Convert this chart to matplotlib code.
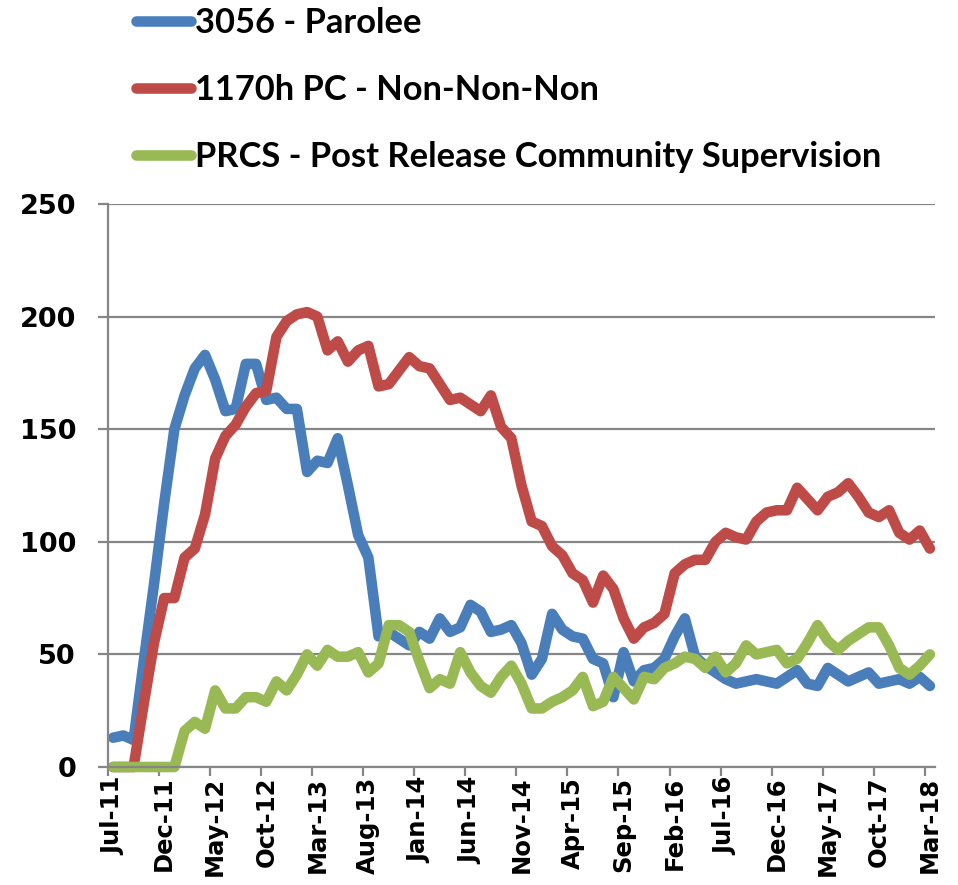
import numpy as np
import matplotlib
matplotlib.use("Agg")
import matplotlib.pyplot as plt
from matplotlib.font_manager import FontProperties

# monthly counts, Jul-11 .. Mar-18 (81 months)
parolee = [13, 14, 12, 47, 81, 117, 150, 165, 177, 183, 172, 158, 159, 179, 179,
           163, 164, 159, 159, 131, 136, 135, 146, 125, 103, 93, 58, 60, 57, 54,
           60, 57, 66, 60, 62, 72, 69, 60, 61, 63, 55, 41, 48, 68, 61, 58, 57, 48,
           46, 31, 51, 38, 43, 44, 48, 58, 66, 49, 45, 42, 39, 37, 38, 39, 38, 37,
           40, 43, 37, 36, 44, 41, 38, 40, 42, 37, 38, 39, 37, 40, 36]
non_non_non = [0, 0, 0, 28, 55, 75, 75, 93, 97, 112, 137, 147, 152, 160, 166,
               167, 191, 198, 201, 202, 200, 185, 189, 180, 185, 187, 169, 170, 176,
               182, 178, 177, 170, 163, 164, 161, 158, 165, 151, 146, 125, 109, 107,
               98, 94, 86, 83, 73, 85, 79, 66, 57, 62, 64, 68, 86, 90, 92, 92, 100,
               104, 102, 101, 109, 113, 114, 114, 124, 119, 114, 120, 122, 126, 120,
               113, 111, 114, 104, 101, 105, 97]
prcs = [0, 0, 0, 0, 0, 0, 0, 16, 20, 17, 34, 26, 26, 31, 31, 29, 38, 34, 41, 50,
        45, 52, 49, 49, 51, 42, 46, 63, 63, 60, 47, 35, 39, 37, 51, 42, 36, 33, 40,
        45, 37, 26, 26, 29, 31, 34, 40, 27, 29, 40, 35, 30, 40, 39, 44, 46, 49, 48,
        44, 49, 42, 46, 54, 50, 51, 52, 46, 48, 55, 63, 56, 52, 56, 59, 62, 62, 54,
        44, 41, 45, 50]

tick_labels = ["Jul-11", "Dec-11", "May-12", "Oct-12", "Mar-13", "Aug-13", "Jan-14",
               "Jun-14", "Nov-14", "Apr-15", "Sep-15", "Feb-16", "Jul-16", "Dec-16",
               "May-17", "Oct-17", "Mar-18"]
series_names = ["3056 - Parolee", "1170h PC - Non-Non-Non",
                "PRCS - Post Release Community Supervision"]
colors = ["#4A7EBB", "#BE4B48", "#98B954"]

GRID = "#868686"
W, H = 958, 885

x = np.arange(len(parolee))

fig = plt.figure(figsize=(W / 100, H / 100), dpi=100)
ax = fig.add_axes([108 / W, 1 - 767 / H, (935 - 108) / W, (767 - 204) / H])

handles = []
for vals, name, c in zip([parolee, non_non_non, prcs], series_names, colors):
    ln, = ax.plot(x, vals, color=c, lw=7.6, label=name, clip_on=False,
                  solid_capstyle="round", solid_joinstyle="round")
    handles.append(ln)

ax.set_xlim(-0.5, len(x) - 0.5)
ax.set_ylim(0, 250)
ax.set_yticks(np.arange(0, 251, 50))
ax.yaxis.grid(True, color=GRID, lw=1.6)
ax.set_axisbelow(True)

for s in ["top", "right"]:
    ax.spines[s].set_visible(False)
for s in ["left", "bottom"]:
    ax.spines[s].set_color(GRID)
    ax.spines[s].set_linewidth(1.6)

# labels on the category centres, tick marks between categories
ax.set_xticks(x[::5])
ax.set_xticklabels(tick_labels, rotation=90, fontsize=17.5, fontweight="bold")
ax.set_xticks(np.arange(-0.5, len(x) - 0.5, 5), minor=True)
ax.tick_params(axis="x", which="major", length=0, pad=7)
ax.tick_params(axis="x", which="minor", length=6.5, width=1.6, color=GRID)
ax.tick_params(axis="y", length=7, width=1.6, color=GRID, pad=16, labelsize=19.5)
for t in ax.get_yticklabels():
    t.set_fontweight("bold")

leg_font = FontProperties(family=["Lato", "Liberation Sans"], weight="bold", size=24.8)
fig.legend(handles=handles, loc="upper left", bbox_to_anchor=(136 / W, 1 - 7 / H),
           frameon=False, prop=leg_font, handlelength=1.6, handletextpad=0.1,
           labelspacing=1.02, borderpad=0, borderaxespad=0)

fig.savefig("out.png", dpi=100)
